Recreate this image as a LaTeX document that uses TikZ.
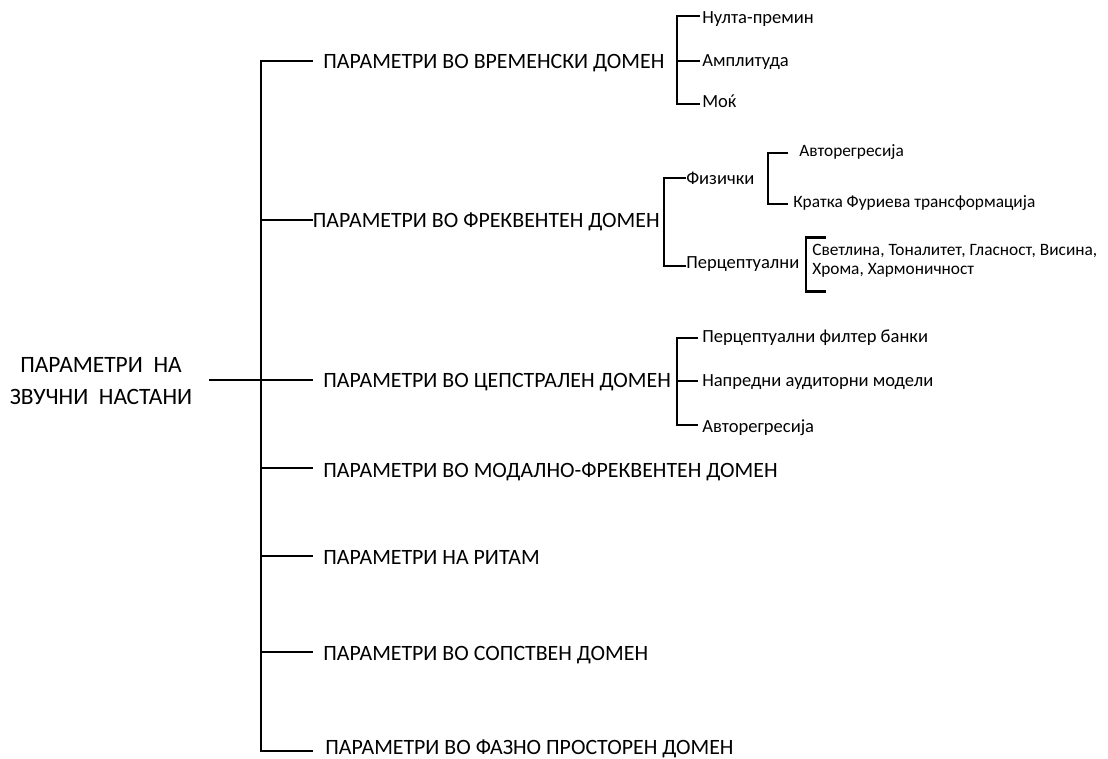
\documentclass[tikz,border=0pt]{standalone}
\usepackage{fontspec}
\setmainfont{Carlito}
\begin{document}
\begin{tikzpicture}[x=0.75pt,y=-0.75pt,
  mainlbl/.style={anchor=base west, inner sep=0pt, font=\fontsize{16.4}{19}\selectfont},
  sublbl/.style={anchor=base west, inner sep=0pt, font=\fontsize{13.9}{16}\selectfont},
  leaflbl/.style={anchor=base west, inner sep=0pt, font=\fontsize{13}{15}\selectfont},
  rootlbl/.style={align=center, inner sep=0pt, font=\fontsize{17.6}{23.5}\selectfont},
  mainline/.style={line width=1.6pt, line cap=rect},
  subline/.style={line width=1.8pt, line cap=rect}]
\useasboundingbox (0,0) rectangle (1108,758);

% root
\node[rootlbl] (root) at (101,381) {ПАРАМЕТРИ\ \ НА\\ЗВУЧНИ\ \ НАСТАНИ};

% main labels
\node[mainlbl] (m1) at (323,68) {ПАРАМЕТРИ ВО ВРЕМЕНСКИ ДОМЕН};
\node[mainlbl] (m2) at (312.5,227) {ПАРАМЕТРИ ВО ФРЕКВЕНТЕН ДОМЕН};
\node[mainlbl] (m3) at (323,387) {ПАРАМЕТРИ ВО ЦЕПСТРАЛЕН ДОМЕН};
\node[mainlbl] (m4) at (323,477) {ПАРАМЕТРИ ВО МОДАЛНО-ФРЕКВЕНТЕН ДОМЕН};
\node[mainlbl] (m5) at (323,564) {ПАРАМЕТРИ НА РИТАМ};
\node[mainlbl] (m6) at (323,660) {ПАРАМЕТРИ ВО СОПСТВЕН ДОМЕН};
\node[mainlbl] (m7) at (325,754) {ПАРАМЕТРИ ВО ФАЗНО ПРОСТОРЕН ДОМЕН};

% spine coordinates
\coordinate (s1) at (261,61);  \coordinate (e1) at (312,61);
\coordinate (s2) at (261,220); \coordinate (e2) at (312,220);
\coordinate (s3) at (261,380); \coordinate (e3) at (312,380);
\coordinate (s4) at (261,468); \coordinate (e4) at (312,468);
\coordinate (s5) at (261,556); \coordinate (e5) at (312,556);
\coordinate (s6) at (261,652); \coordinate (e6) at (312,652);
\coordinate (s7) at (261,751); \coordinate (e7) at (312,751);
\coordinate (rt) at (210,380);

\draw[mainline] (e1) -- (s1) -- (s7) -- (e7);
\draw[mainline] (s2) -- (e2);
\draw[mainline] (rt) -- (e3);
\draw[mainline] (s4) -- (e4);
\draw[mainline] (s5) -- (e5);
\draw[mainline] (s6) -- (e6);

% time domain children
\node[sublbl] (t1) at (702,23) {Нулта-премин};
\node[sublbl] (t2) at (702,66) {Амплитуда};
\node[sublbl] (t3) at (702,107) {Моќ};
\coordinate (ta) at (677,16);  \coordinate (tae) at (699,16);
\coordinate (tb) at (677,61);  \coordinate (tbe) at (699,61);
\coordinate (tc) at (677,104); \coordinate (tce) at (699,104);
\draw[subline] (tae) -- (ta) -- (tc) -- (tce);
\draw[subline] (tb) -- (tbe);

% frequency domain children
\node[sublbl] (f1) at (686,184) {Физички};
\node[sublbl] (f2) at (686,268) {Перцептуални};
\coordinate (fa) at (664,178); \coordinate (fae) at (685,178);
\coordinate (fb) at (664,266); \coordinate (fbe) at (685,266);
\draw[subline] (fae) -- (fa) -- (fb) -- (fbe);

% physical children
\node[leaflbl] (p1) at (799,156) {Авторегресија};
\node[leaflbl] (p2) at (793,207) {Кратка Фуриева трансформација};
\coordinate (pa) at (768,153); \coordinate (pae) at (787,153);
\coordinate (pb) at (768,204); \coordinate (pbe) at (787,204);
\draw[subline] (pae) -- (pa) -- (pb) -- (pbe);

% perceptual children
\node[leaflbl, align=left, anchor=north west, font=\fontsize{13}{14.3}\selectfont] (q1) at (812,243.5) {Светлина, Тоналитет, Гласност, Висина,\\Хрома, Хармоничност};
\coordinate (qa) at (806,237.5); \coordinate (qae) at (825,237.5);
\coordinate (qb) at (806,291.5); \coordinate (qbe) at (825,291.5);
\draw[subline] (qae) -- (qa) -- (qb) -- (qbe);

% cepstral children
\node[sublbl] (c1) at (702,342) {Перцептуални филтер банки};
\node[sublbl] (c2) at (702,386) {Напредни аудиторни модели};
\node[sublbl] (c3) at (702,432) {Авторегресија};
\coordinate (ca) at (677,338); \coordinate (cae) at (697,338);
\coordinate (cb) at (677,381); \coordinate (cbe) at (697,381);
\coordinate (cc) at (677,425); \coordinate (cce) at (697,425);
\draw[subline] (cae) -- (ca) -- (cc) -- (cce);
\draw[subline] (cb) -- (cbe);
\end{tikzpicture}
\end{document}
